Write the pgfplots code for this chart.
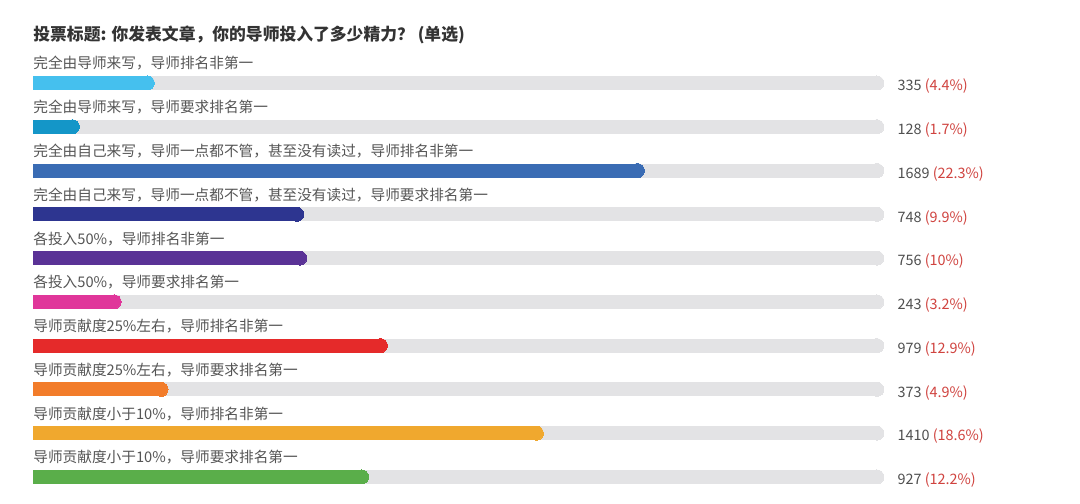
\documentclass[border=0pt]{standalone}
\usepackage{pgfplots}
\pgfplotsset{compat=1.18}
\usepackage{fontspec}
\setmainfont{Noto Sans CJK SC}

\definecolor{trackgray}{HTML}{E3E3E5}
\definecolor{labgray}{HTML}{555555}
\definecolor{titlegray}{HTML}{333333}
\definecolor{numgray}{HTML}{505050}
\definecolor{pctred}{HTML}{D0433F}
\definecolor{c1}{HTML}{45C0EE}
\definecolor{c2}{HTML}{1496C8}
\definecolor{c3}{HTML}{3A6CB4}
\definecolor{c4}{HTML}{2D3590}
\definecolor{c5}{HTML}{5A3296}
\definecolor{c6}{HTML}{E0369A}
\definecolor{c7}{HTML}{E52A2A}
\definecolor{c8}{HTML}{F27C2A}
\definecolor{c9}{HTML}{F0A82E}
\definecolor{c10}{HTML}{5AAE4A}

% bars: square at 0, round cap at the value
\pgfplotsset{
  rbar/.style={xcomb, draw=#1, line width=10.5pt, shorten >=5.25pt,
    mark=*, mark size=5.25pt,
    mark options={xshift=-5.25pt, fill=#1, draw=#1, line width=0pt}},
  track/.style={rbar=trackgray, nodes near coords={#1},
    every node near coord/.style={anchor=west, inner sep=0pt, xshift=15.5pt,
      yshift=-2.5pt, text=numgray, font=\fontsize{10.8}{12}\selectfont}},
}

\begin{document}
\begin{tikzpicture}
\fill[white] (0,0) rectangle (810pt,378pt);
\begin{axis}[
  at={(0,0)}, anchor=south west,
  scale only axis, width=810pt, height=378pt,
  xmin=-91.16, xmax=2892.3,
  ymin=-1.896, ymax=9.616, y dir=reverse,
  axis line style={draw=none},
  xtick=\empty,
  ytick={0,...,9},
  yticklabels={
    完全由导师来写，导师排名非第一,
    完全由导师来写，导师要求排名第一,
    完全由自己来写，导师一点都不管，甚至没有读过，导师排名非第一,
    完全由自己来写，导师一点都不管，甚至没有读过，导师要求排名第一,
    各投入50\%，导师排名非第一,
    各投入50\%，导师要求排名第一,
    导师贡献度25\%左右，导师排名非第一,
    导师贡献度25\%左右，导师要求排名第一,
    导师贡献度小于10\%，导师排名非第一,
    导师贡献度小于10\%，导师要求排名第一},
  major tick length=0pt,
  yticklabel style={anchor=base west, inner sep=0pt, xshift=24.75pt,
    yshift=10.5pt, text=labgray, font=\fontsize{11}{13}\selectfont},
  title={投票标题: 你发表文章，你的导师投入了多少精力？ (单选)},
  title style={at={(0,1)}, anchor=base west, inner sep=0pt, xshift=24.75pt,
    yshift=-36.5pt, text=titlegray, font=\fontsize{12.6}{14}\selectfont\bfseries},
  clip=false,
]
\addplot[track={335 \textcolor{pctred}{(4.4\%)}}]   coordinates {(2350.8,0)};
\addplot[track={128 \textcolor{pctred}{(1.7\%)}}]   coordinates {(2350.8,1)};
\addplot[track={1689 \textcolor{pctred}{(22.3\%)}}] coordinates {(2350.8,2)};
\addplot[track={748 \textcolor{pctred}{(9.9\%)}}]   coordinates {(2350.8,3)};
\addplot[track={756 \textcolor{pctred}{(10\%)}}]    coordinates {(2350.8,4)};
\addplot[track={243 \textcolor{pctred}{(3.2\%)}}]   coordinates {(2350.8,5)};
\addplot[track={979 \textcolor{pctred}{(12.9\%)}}]  coordinates {(2350.8,6)};
\addplot[track={373 \textcolor{pctred}{(4.9\%)}}]   coordinates {(2350.8,7)};
\addplot[track={1410 \textcolor{pctred}{(18.6\%)}}] coordinates {(2350.8,8)};
\addplot[track={927 \textcolor{pctred}{(12.2\%)}}]  coordinates {(2350.8,9)};

\addplot[rbar=c1]  coordinates {(335,0)};
\addplot[rbar=c2]  coordinates {(128,1)};
\addplot[rbar=c3]  coordinates {(1689,2)};
\addplot[rbar=c4]  coordinates {(748,3)};
\addplot[rbar=c5]  coordinates {(756,4)};
\addplot[rbar=c6]  coordinates {(243,5)};
\addplot[rbar=c7]  coordinates {(979,6)};
\addplot[rbar=c8]  coordinates {(373,7)};
\addplot[rbar=c9]  coordinates {(1410,8)};
\addplot[rbar=c10] coordinates {(927,9)};
\end{axis}
\end{tikzpicture}
\end{document}
